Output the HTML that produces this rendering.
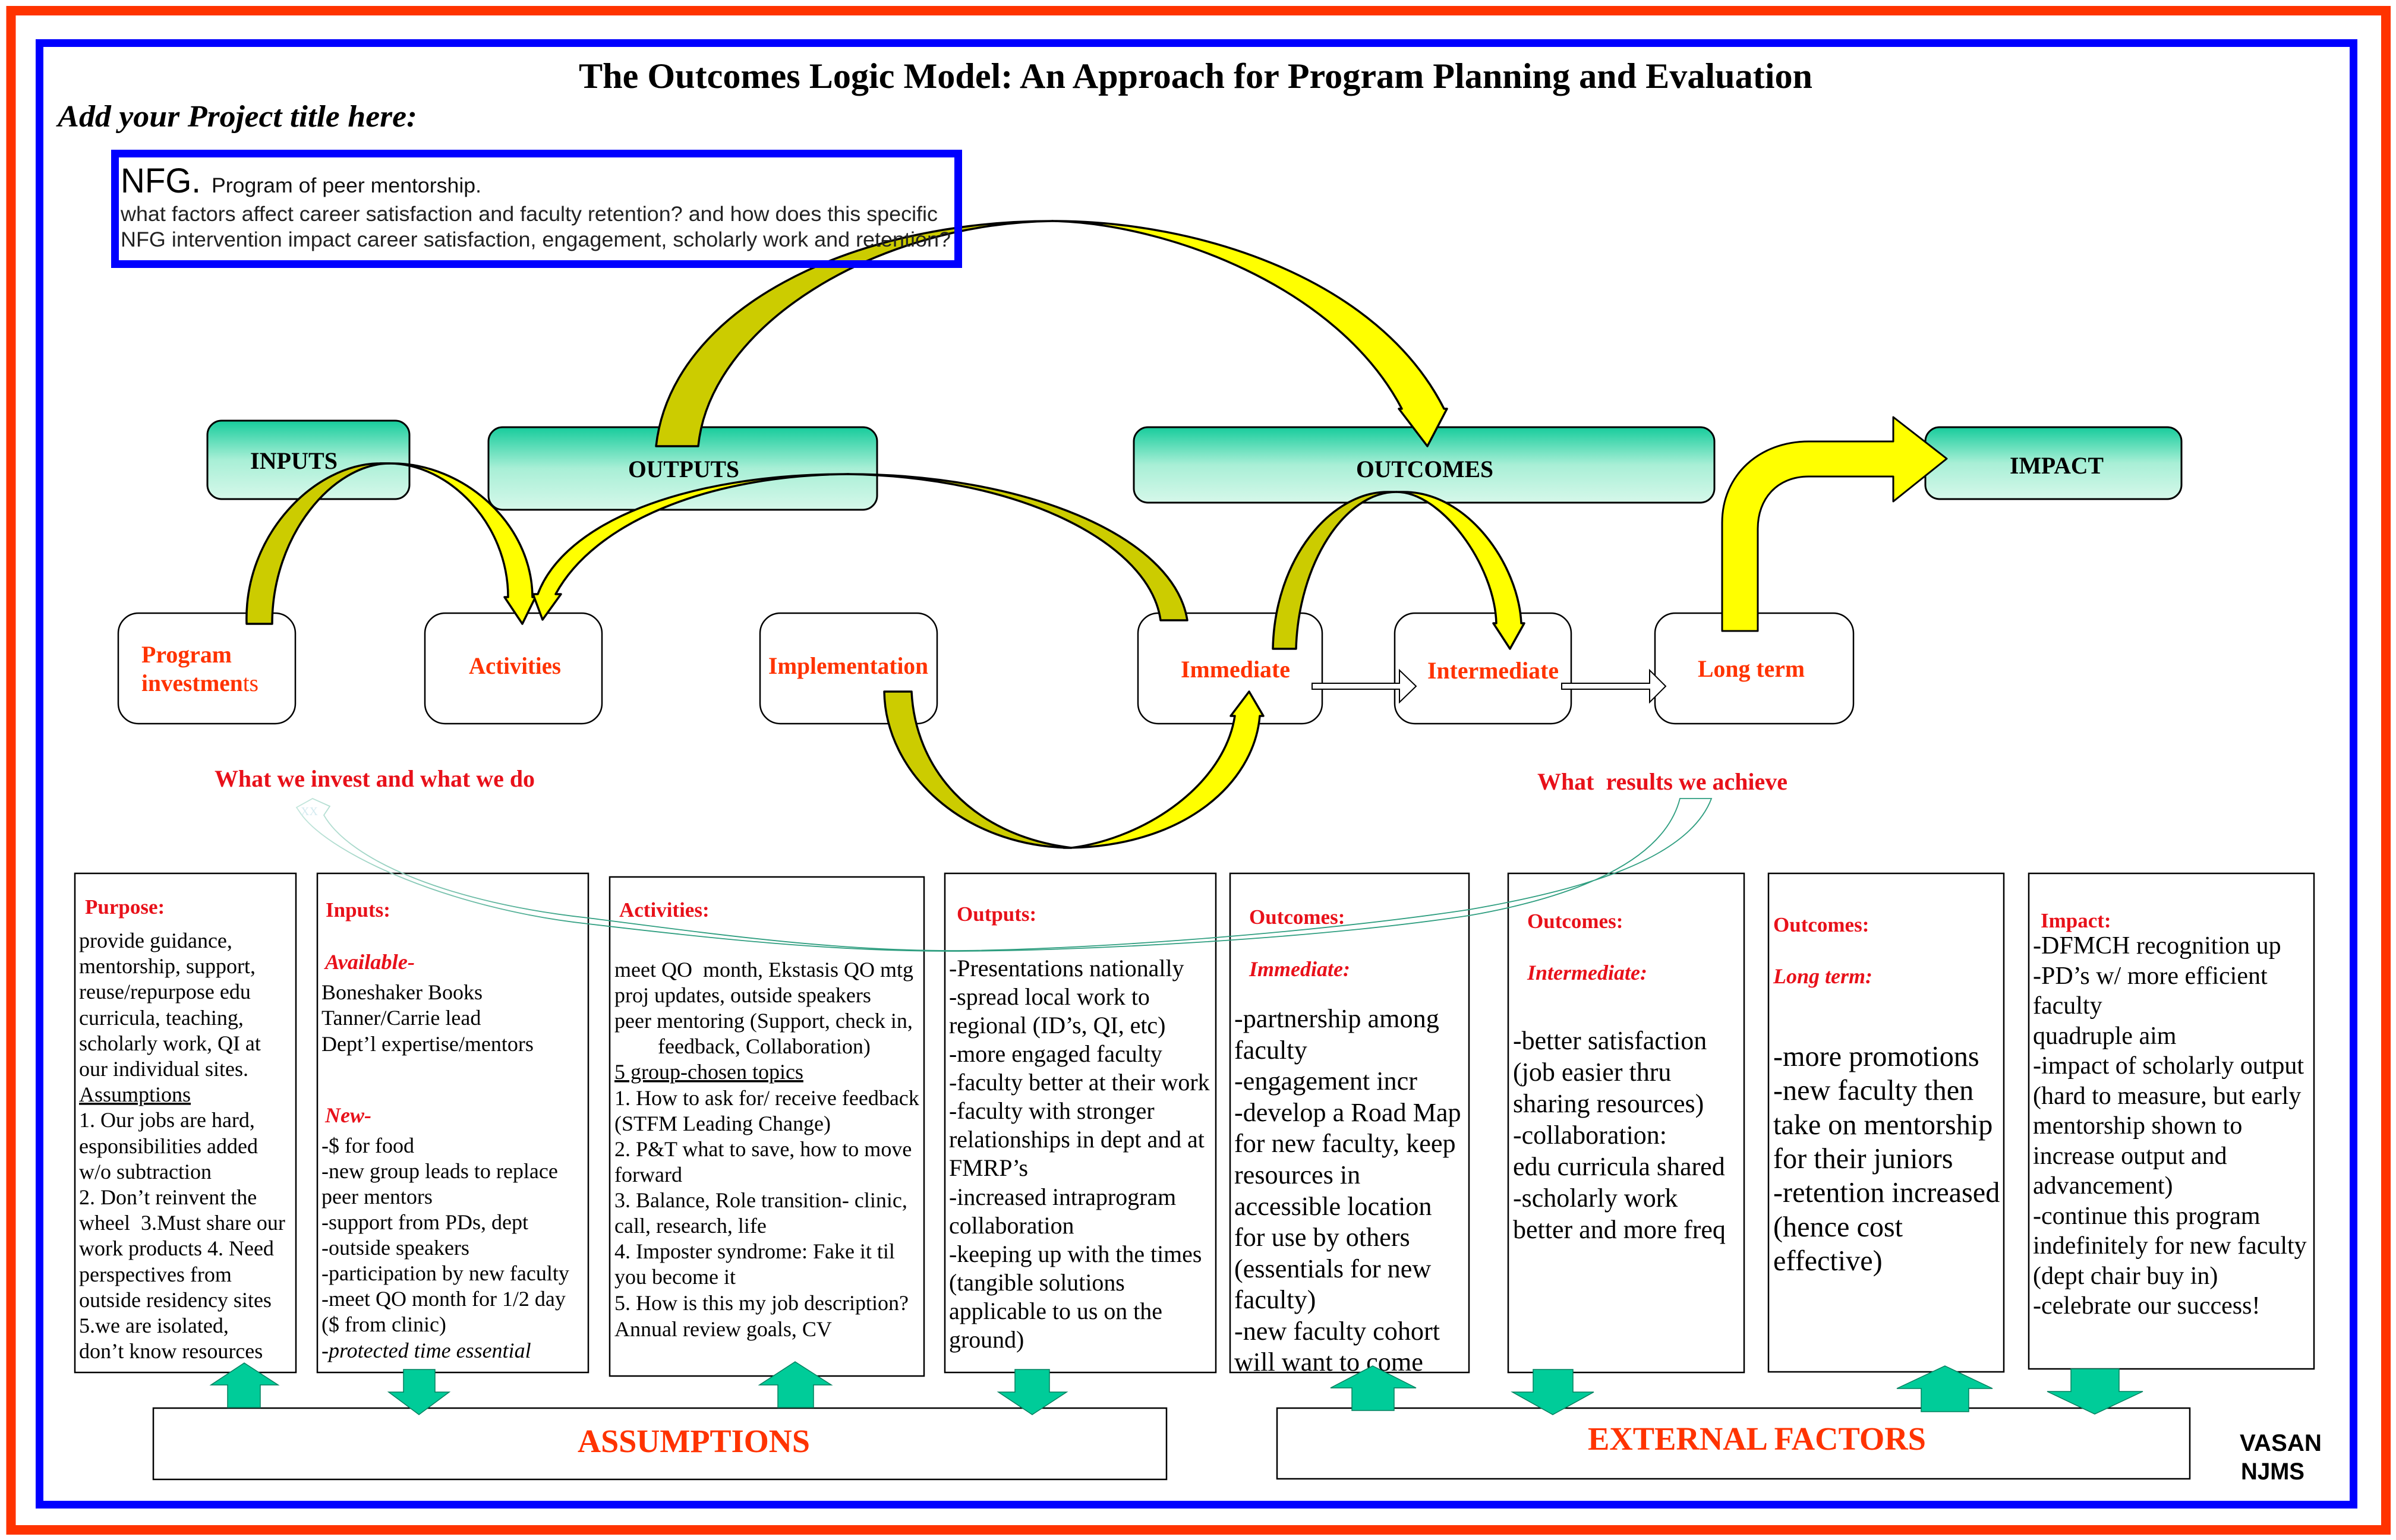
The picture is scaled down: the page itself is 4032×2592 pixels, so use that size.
<!DOCTYPE html>
<html><head><meta charset="utf-8"><title>The Outcomes Logic Model</title>
<style>
html,body{margin:0;padding:0;background:#fff}
svg{display:block}
text{font-family:"Liberation Serif",serif;white-space:pre}
.s{font-family:"Liberation Sans",sans-serif}
.lb{font-weight:bold;font-size:40px;fill:#000}
.o{font-weight:bold;font-size:40px;fill:#FF3300}
.r{font-weight:bold;font-size:40px;fill:#E8111A}
.h{font-weight:bold;font-size:35px;fill:#E8111A}
.hi{font-weight:bold;font-style:italic;font-size:36px;fill:#E8111A}
.b1{font-size:36px;fill:#000}
.b4{font-size:39.9px;fill:#000}
.b5{font-size:44.2px;fill:#000}
.b6{font-size:44px;fill:#000}
.b7{font-size:48.2px;fill:#000}
.b8{font-size:42px;fill:#000}
.col{fill:#fff;stroke:#000;stroke-width:2.5}
.rb{fill:#fff;stroke:#000;stroke-width:2.5}
.gb{fill:url(#g);stroke:#000;stroke-width:3}
.dk{fill:#CCCC00;stroke:#000;stroke-width:3.5;stroke-linejoin:round}
.ye{fill:#FFFF00;stroke:#000;stroke-width:3.5;stroke-linejoin:round}
.gr{fill:#00CC99;stroke:#00805f;stroke-width:1.5}
.sw{fill:none;stroke:url(#sg);stroke-width:1.8}
.da{fill:#fff;stroke:#000;stroke-width:2}
</style></head><body>
<svg xmlns="http://www.w3.org/2000/svg" width="4032" height="2592" viewBox="0 0 4032 2592">
<defs>
<linearGradient id="g" x1="0" y1="0" x2="0" y2="1"><stop offset="0" stop-color="#17CC9C"/><stop offset=".5" stop-color="#A8EFD6"/><stop offset="1" stop-color="#D6F8EA"/></linearGradient>
<linearGradient id="sg" gradientUnits="userSpaceOnUse" x1="500" y1="0" x2="1000" y2="0"><stop offset="0" stop-color="#c4e6dc"/><stop offset="1" stop-color="#2f9e80"/></linearGradient>
</defs>
<rect width="4032" height="2592" fill="#fff"/>
<rect x="18.5" y="18" width="3996.5" height="2557" fill="none" stroke="#FF3300" stroke-width="16"/>
<rect x="66.5" y="72.5" width="3894" height="2460" fill="none" stroke="#0000FF" stroke-width="13"/>

<text x="974" y="148" font-size="60" font-weight="bold" textLength="2076" lengthAdjust="spacingAndGlyphs">The Outcomes Logic Model: An Approach for Program Planning and Evaluation</text>
<text x="97" y="213" font-size="52" font-weight="bold" font-style="italic" textLength="605" lengthAdjust="spacingAndGlyphs">Add your Project title here:</text>

<!-- header boxes -->
<rect class="gb" x="349" y="708" width="340" height="132" rx="24"/>
<rect class="gb" x="822" y="719" width="654" height="139" rx="24"/>
<rect class="gb" x="1908" y="719" width="977" height="127" rx="24"/>
<rect class="gb" x="3240" y="719" width="431" height="121" rx="24"/>

<!-- node boxes -->
<rect class="rb" x="199" y="1032" width="298" height="186" rx="34"/>
<rect class="rb" x="715" y="1032" width="298" height="186" rx="34"/>
<rect class="rb" x="1279" y="1032" width="298" height="186" rx="34"/>
<rect class="rb" x="1915" y="1032" width="310" height="186" rx="34"/>
<rect class="rb" x="2347" y="1032" width="297" height="186" rx="34"/>
<rect class="rb" x="2785" y="1032" width="334" height="186" rx="34"/>

<!-- bottom columns -->
<rect class="col" x="126" y="1470" width="372" height="840"/>
<rect class="col" x="534" y="1470" width="456" height="840"/>
<rect class="col" x="1026" y="1476" width="529" height="840"/>
<rect class="col" x="1590" y="1470" width="456" height="840"/>
<rect class="col" x="2070" y="1470" width="402" height="840"/>
<rect class="col" x="2538" y="1470" width="397" height="840"/>
<rect class="col" x="2976" y="1470" width="396" height="839"/>
<rect class="col" x="3414" y="1470" width="480" height="834"/>

<rect class="col" x="258" y="2370" width="1705" height="120"/>
<rect class="col" x="2149" y="2370" width="1536" height="119"/>

<!-- big curved arrows -->
<path class="dk" d="M1104,751 C1130,520 1430,372 1772,372 C1470,376 1195,550 1175,751 Z"/>
<path class="ye" d="M1772,372 C2020,372 2320,470 2430,688 L2435,688 L2402,751 L2354,688 L2359,688 C2250,480 1960,376 1772,372 Z"/>

<path class="dk" d="M415,1050 C410,900 530,780 640,780 L656,780 C560,780 458,901 458,1050 Z"/>
<path class="ye" d="M640,780 L660,780 C780,780 895,881 896,1005 L901,1005 L879,1050 L849,1005 L855,1005 C855,881 755,780 655,780 Z"/>

<path class="dk" d="M1998,1044 C1975,900 1720,798 1427,798 C1720,803 1935,915 1953,1044 Z"/>
<path class="ye" d="M1427,798 C1150,798 950,880 905,1000 L897,1000 L913,1043 L944,1000 L935,1000 C1000,880 1190,800 1427,798 Z"/>

<path class="dk" d="M1488,1164 L1534,1164 C1540,1290 1630,1405 1803,1427 C1620,1425 1490,1300 1488,1164 Z"/>
<path class="ye" d="M1790,1427 C1990,1427 2110,1320 2120,1205 L2126,1205 L2102,1164 L2071,1205 L2078,1205 C2060,1320 1930,1410 1803,1427 Z"/>

<path class="dk" d="M2142,1092 C2145,940 2240,828 2335,828 L2350,828 C2262,828 2185,950 2181,1092 Z"/>
<path class="ye" d="M2350,828 L2362,828 C2470,828 2555,950 2560,1049 L2565,1049 L2541,1092 L2513,1049 L2518,1049 C2515,950 2425,828 2350,828 Z"/>

<path class="ye" style="stroke-width:3" d="M2898,1062 L2898,880 C2898,800 2960,743 3044,743 L3186,743 L3186,702 L3276,772 L3186,844 L3186,802 L3044,802 C2990,802 2958,840 2958,890 L2958,1062 Z"/>

<!-- double line arrows -->
<path class="da" d="M2208,1150 L2355,1150 L2355,1128 L2383,1155 L2355,1182 L2355,1160 L2208,1160 Z"/>
<path class="da" d="M2628,1150 L2776,1150 L2776,1128 L2803,1155 L2776,1182 L2776,1160 L2628,1160 Z"/>

<!-- labels top -->
<text class="lb" x="421" y="789" textLength="147" lengthAdjust="spacingAndGlyphs">INPUTS</text>
<text class="lb" x="1057" y="803" textLength="187" lengthAdjust="spacingAndGlyphs">OUTPUTS</text>
<text class="lb" x="2282" y="803" textLength="231" lengthAdjust="spacingAndGlyphs">OUTCOMES</text>
<text class="lb" x="3382" y="797" textLength="158" lengthAdjust="spacingAndGlyphs">IMPACT</text>

<text class="o" x="238" y="1115" textLength="152" lengthAdjust="spacingAndGlyphs">Program</text>
<text class="o" x="238" y="1163" textLength="197" lengthAdjust="spacingAndGlyphs">investmen<tspan font-weight="normal">ts</tspan></text>
<text class="o" x="789" y="1134" textLength="155" lengthAdjust="spacingAndGlyphs">Activities</text>
<text class="o" x="1293" y="1134" textLength="269" lengthAdjust="spacingAndGlyphs">Implementation</text>
<text class="o" x="1987" y="1140" textLength="184" lengthAdjust="spacingAndGlyphs">Immediate</text>
<text class="o" x="2402" y="1142" textLength="221" lengthAdjust="spacingAndGlyphs">Intermediate</text>
<text class="o" x="2857" y="1139" textLength="180" lengthAdjust="spacingAndGlyphs">Long term</text>

<text class="r" x="361" y="1324" textLength="539" lengthAdjust="spacingAndGlyphs">What we invest and what we do</text>
<text class="r" x="2587" y="1329" textLength="421" lengthAdjust="spacingAndGlyphs">What  results we achieve</text>

<!-- col 1 -->
<text class="h" x="143" y="1538">Purpose:</text>
<text class="b1" x="133" y="1595">provide guidance,</text>
<text class="b1" x="133" y="1638">mentorship, support,</text>
<text class="b1" x="133" y="1681">reuse/repurpose edu</text>
<text class="b1" x="133" y="1725">curricula, teaching,</text>
<text class="b1" x="133" y="1768">scholarly work, QI at</text>
<text class="b1" x="133" y="1811">our individual sites.</text>
<text class="b1" x="133" y="1854" text-decoration="underline">Assumptions</text>
<text class="b1" x="133" y="1897">1. Our jobs are hard,</text>
<text class="b1" x="133" y="1941">esponsibilities added</text>
<text class="b1" x="133" y="1984">w/o subtraction</text>
<text class="b1" x="133" y="2027">2. Don’t reinvent the</text>
<text class="b1" x="133" y="2070">wheel  3.Must share our</text>
<text class="b1" x="133" y="2113">work products 4. Need</text>
<text class="b1" x="133" y="2157">perspectives from</text>
<text class="b1" x="133" y="2200">outside residency sites</text>
<text class="b1" x="133" y="2243">5.we are isolated,</text>
<text class="b1" x="133" y="2286">don’t know resources</text>

<!-- col 2 -->
<text class="h" x="548" y="1543">Inputs:</text>
<text class="hi" x="547" y="1631" textLength="151" lengthAdjust="spacingAndGlyphs">Available-</text>
<text class="b1" x="541" y="1682">Boneshaker Books</text>
<text class="b1" x="541" y="1725">Tanner/Carrie lead</text>
<text class="b1" x="541" y="1769">Dept’l expertise/mentors</text>
<text class="hi" x="547" y="1889">New-</text>
<text class="b1" x="541" y="1940">-$ for food</text>
<text class="b1" x="541" y="1983">-new group leads to replace</text>
<text class="b1" x="541" y="2026">peer mentors</text>
<text class="b1" x="541" y="2069">-support from PDs, dept</text>
<text class="b1" x="541" y="2112">-outside speakers</text>
<text class="b1" x="541" y="2155">-participation by new faculty</text>
<text class="b1" x="541" y="2198">-meet QO month for 1/2 day</text>
<text class="b1" x="541" y="2241">($ from clinic)</text>
<text class="b1" x="541" y="2285" font-style="italic">-protected time essential</text>

<!-- col 3 -->
<text class="h" x="1042" y="1543">Activities:</text>
<text class="b1" x="1034" y="1644">meet QO  month, Ekstasis QO mtg</text>
<text class="b1" x="1034" y="1687">proj updates, outside speakers</text>
<text class="b1" x="1034" y="1730">peer mentoring (Support, check in,</text>
<text class="b1" x="1107" y="1773">feedback, Collaboration)</text>
<text class="b1" x="1034" y="1816" text-decoration="underline">5 group-chosen topics</text>
<text class="b1" x="1034" y="1860">1. How to ask for/ receive feedback</text>
<text class="b1" x="1034" y="1903">(STFM Leading Change)</text>
<text class="b1" x="1034" y="1946">2. P&amp;T what to save, how to move</text>
<text class="b1" x="1034" y="1989">forward</text>
<text class="b1" x="1034" y="2032">3. Balance, Role transition- clinic,</text>
<text class="b1" x="1034" y="2075">call, research, life</text>
<text class="b1" x="1034" y="2118">4. Imposter syndrome: Fake it til</text>
<text class="b1" x="1034" y="2161">you become it</text>
<text class="b1" x="1034" y="2205">5. How is this my job description?</text>
<text class="b1" x="1034" y="2249">Annual review goals, CV</text>

<!-- col 4 -->
<text class="h" x="1610" y="1550">Outputs:</text>
<text class="b4" x="1597" y="1643">-Presentations nationally</text>
<text class="b4" x="1597" y="1691">-spread local work to</text>
<text class="b4" x="1597" y="1739">regional (ID’s, QI, etc)</text>
<text class="b4" x="1597" y="1787">-more engaged faculty</text>
<text class="b4" x="1597" y="1835">-faculty better at their work</text>
<text class="b4" x="1597" y="1883">-faculty with stronger</text>
<text class="b4" x="1597" y="1931">relationships in dept and at</text>
<text class="b4" x="1597" y="1979">FMRP’s</text>
<text class="b4" x="1597" y="2028">-increased intraprogram</text>
<text class="b4" x="1597" y="2076">collaboration</text>
<text class="b4" x="1597" y="2124">-keeping up with the times</text>
<text class="b4" x="1597" y="2172">(tangible solutions</text>
<text class="b4" x="1597" y="2220">applicable to us on the</text>
<text class="b4" x="1597" y="2268">ground)</text>

<!-- col 5 -->
<text class="h" x="2102" y="1555">Outcomes:</text>
<text class="hi" x="2102" y="1643">Immediate:</text>
<text class="b5" x="2077" y="1729">-partnership among</text>
<text class="b5" x="2077" y="1782">faculty</text>
<text class="b5" x="2077" y="1834">-engagement incr</text>
<text class="b5" x="2077" y="1887">-develop a Road Map</text>
<text class="b5" x="2077" y="1939">for new faculty, keep</text>
<text class="b5" x="2077" y="1992">resources in</text>
<text class="b5" x="2077" y="2045">accessible location</text>
<text class="b5" x="2077" y="2097">for use by others</text>
<text class="b5" x="2077" y="2150">(essentials for new</text>
<text class="b5" x="2077" y="2202">faculty)</text>
<text class="b5" x="2077" y="2255">-new faculty cohort</text>
<text class="b5" x="2077" y="2307">will want to come</text>

<!-- col 6 -->
<text class="h" x="2570" y="1562">Outcomes:</text>
<text class="hi" x="2570" y="1649">Intermediate:</text>
<text class="b6" x="2546" y="1766">-better satisfaction</text>
<text class="b6" x="2546" y="1819">(job easier thru</text>
<text class="b6" x="2546" y="1872">sharing resources)</text>
<text class="b6" x="2546" y="1925">-collaboration:</text>
<text class="b6" x="2546" y="1978">edu curricula shared</text>
<text class="b6" x="2546" y="2031">-scholarly work</text>
<text class="b6" x="2546" y="2084">better and more freq</text>

<!-- col 7 -->
<text class="h" x="2984" y="1568">Outcomes:</text>
<text class="hi" x="2984" y="1655">Long term:</text>
<text class="b7" x="2984" y="1794">-more promotions</text>
<text class="b7" x="2984" y="1851">-new faculty then</text>
<text class="b7" x="2984" y="1909">take on mentorship</text>
<text class="b7" x="2984" y="1966">for their juniors</text>
<text class="b7" x="2984" y="2023">-retention increased</text>
<text class="b7" x="2984" y="2081">(hence cost</text>
<text class="b7" x="2984" y="2138">effective)</text>

<!-- col 8 -->
<text class="h" x="3434" y="1561">Impact:</text>
<text class="b8" x="3421" y="1605">-DFMCH recognition up</text>
<text class="b8" x="3421" y="1656">-PD’s w/ more efficient</text>
<text class="b8" x="3421" y="1706">faculty</text>
<text class="b8" x="3421" y="1757">quadruple aim</text>
<text class="b8" x="3421" y="1807">-impact of scholarly output</text>
<text class="b8" x="3421" y="1858">(hard to measure, but early</text>
<text class="b8" x="3421" y="1908">mentorship shown to</text>
<text class="b8" x="3421" y="1959">increase output and</text>
<text class="b8" x="3421" y="2009">advancement)</text>
<text class="b8" x="3421" y="2060">-continue this program</text>
<text class="b8" x="3421" y="2110">indefinitely for new faculty</text>
<text class="b8" x="3421" y="2161">(dept chair buy in)</text>
<text class="b8" x="3421" y="2211">-celebrate our success!</text>

<!-- teal swoosh -->
<path class="sw" d="M508,1372 L499,1359 L526,1344 L555,1357 L545,1372 C590,1450 760,1520 990,1545 C1200,1572 1400,1600 1600,1600 C1800,1600 2200,1572 2472,1531 C2650,1500 2840,1450 2880,1344 L2827,1344 C2800,1450 2650,1510 2472,1541 C2200,1582 1800,1601 1600,1601 C1400,1601 1200,1580 990,1555 C760,1530 560,1440 508,1372 Z"/>
<text x="506" y="1372" font-size="20" fill="#d5ebf0">XX</text>

<!-- green block arrows -->
<polygon class="gr" points="411,2294 468,2331 438,2331 438,2369 383,2369 383,2331 355,2331"/>
<polygon class="gr" points="679,2305 732,2305 732,2343 756,2343 705,2381 654,2343 679,2343"/>
<polygon class="gr" points="1338,2292 1399,2331 1369,2331 1369,2369 1309,2369 1309,2331 1278,2331"/>
<polygon class="gr" points="1708,2305 1766,2305 1766,2343 1795,2343 1737,2381 1680,2343 1708,2343"/>
<polygon class="gr" points="2310,2299 2383,2336 2346,2336 2346,2374 2275,2374 2275,2336 2239,2336"/>
<polygon class="gr" points="2580,2305 2647,2305 2647,2343 2682,2343 2613,2381 2545,2343 2580,2343"/>
<polygon class="gr" points="3273,2299 3353,2337 3313,2337 3313,2376 3233,2376 3233,2337 3192,2337"/>
<polygon class="gr" points="3485,2304 3566,2304 3566,2342 3606,2342 3525,2380 3445,2342 3485,2342"/>

<text x="972" y="2444" font-size="55" font-weight="bold" fill="#FF3300" textLength="391" lengthAdjust="spacingAndGlyphs">ASSUMPTIONS</text>
<text x="2672" y="2440" font-size="55" font-weight="bold" fill="#FF3300" textLength="569" lengthAdjust="spacingAndGlyphs">EXTERNAL FACTORS</text>
<text class="s" x="3769" y="2442" font-size="40" font-weight="bold" textLength="138" lengthAdjust="spacingAndGlyphs">VASAN</text>
<text class="s" x="3771" y="2490" font-size="40" font-weight="bold" textLength="107" lengthAdjust="spacingAndGlyphs">NJMS</text>

<!-- project box (unfilled, above arrow) -->
<rect x="193.5" y="258.5" width="1419" height="186" fill="none" stroke="#0000FF" stroke-width="13"/>
<text class="s" x="203" y="324" font-size="58" textLength="135" lengthAdjust="spacingAndGlyphs">NFG.</text>
<text class="s" x="356" y="324" font-size="35" fill="#111" textLength="454" lengthAdjust="spacingAndGlyphs">Program of peer mentorship.</text>
<text class="s" x="203" y="372" font-size="35.5" fill="#222" textLength="1375" lengthAdjust="spacingAndGlyphs">what factors affect career satisfaction and faculty retention? and how does this specific</text>
<text class="s" x="203" y="415" font-size="35.5" fill="#222" textLength="1397" lengthAdjust="spacingAndGlyphs">NFG intervention impact career satisfaction, engagement, scholarly work and retention?</text>
</svg>
</body></html>
